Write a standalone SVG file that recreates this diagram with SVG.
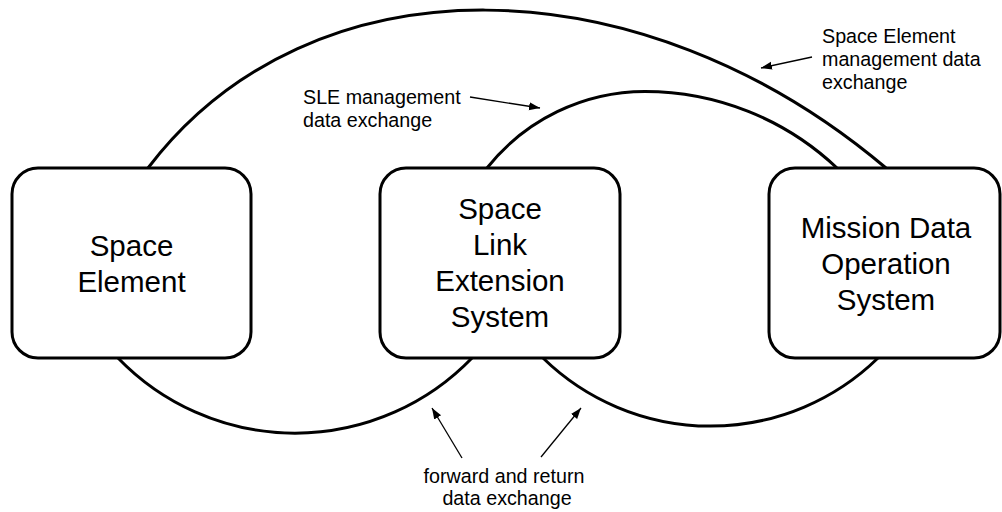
<svg xmlns="http://www.w3.org/2000/svg" width="1002" height="512" viewBox="0 0 1002 512">
<style>
.box{fill:#fff;stroke:#000;stroke-width:3}
.arc{fill:none;stroke:#000;stroke-width:3}
.ptr{fill:none;stroke:#000;stroke-width:1.3}
.big{font-family:"Liberation Sans",Arial,sans-serif;font-size:29.5px;fill:#000;text-anchor:middle}
.lbl{font-family:"Liberation Sans",Arial,sans-serif;font-size:19.7px;fill:#000}
</style>
<defs>
<marker id="ah" markerUnits="userSpaceOnUse" markerWidth="12" markerHeight="10" refX="11" refY="4" orient="auto">
<path d="M0,0 L11,4 L0,8 Z" fill="#000"/>
</marker>
</defs>
<rect width="1002" height="512" fill="#fff"/>
<g id="connectors">
<path class="arc" d="M148,168 C310,-45 640,-40 886,168"/>
<path class="arc" d="M487,168 A202,202 0 0,1 645,91.5 A280,280 0 0,1 837,168"/>
<path class="arc" d="M118,358 A246,246 0 0,0 472,358"/>
<path class="arc" d="M543,358 A240,240 0 0,0 878,358"/>
<line class="ptr" x1="470" y1="97" x2="540" y2="108" marker-end="url(#ah)"/>
<line class="ptr" x1="812" y1="57" x2="761" y2="68" marker-end="url(#ah)"/>
<line class="ptr" x1="462" y1="458" x2="432" y2="408" marker-end="url(#ah)"/>
<line class="ptr" x1="541" y1="457" x2="581" y2="408" marker-end="url(#ah)"/>
</g>
<g id="space-element">
<rect class="box" x="12" y="168" width="239" height="190" rx="26"/>
<text class="big" x="131.5" y="256">Space</text>
<text class="big" x="131.5" y="292">Element</text>
</g>
<g id="sle-system">
<rect class="box" x="380" y="168" width="240" height="190" rx="26"/>
<text class="big" x="500" y="219">Space</text>
<text class="big" x="500" y="255">Link</text>
<text class="big" x="500" y="291">Extension</text>
<text class="big" x="500" y="327">System</text>
</g>
<g id="mdos">
<rect class="box" x="769" y="168" width="231" height="190" rx="26"/>
<text class="big" x="886" y="238">Mission Data</text>
<text class="big" x="886" y="274">Operation</text>
<text class="big" x="886" y="310">System</text>
</g>
<g id="labels">
<text class="lbl" x="303" y="104">SLE management</text>
<text class="lbl" x="303" y="127">data exchange</text>
<text class="lbl" x="822" y="43">Space Element</text>
<text class="lbl" x="822" y="66">management data</text>
<text class="lbl" x="822" y="89">exchange</text>
<text class="lbl" x="504" y="483" text-anchor="middle">forward and return</text>
<text class="lbl" x="507" y="505" text-anchor="middle">data exchange</text>
</g>
</svg>
